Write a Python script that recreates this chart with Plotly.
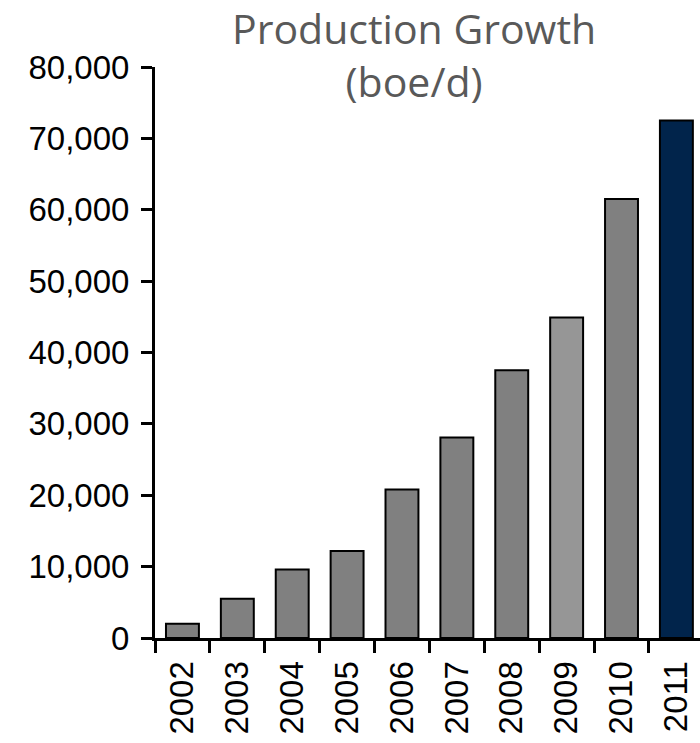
import plotly.graph_objects as go

years = ["2002", "2003", "2004", "2005", "2006", "2007", "2008", "2009", "2010", "2011"]
production = [2000, 5500, 9600, 12200, 20800, 28100, 37500, 44900, 61500, 72500]
bar_colors = ["#808080"] * 7 + ["#969696", "#808080", "#01244b"]
y_ticks = [0, 10000, 20000, 30000, 40000, 50000, 60000, 70000, 80000]

fig = go.Figure()
fig.add_trace(go.Bar(
    x=years, y=production,
    marker=dict(color=bar_colors, line=dict(color="black", width=2)),
    width=0.6,
))

fig.update_layout(
    width=700, height=743,
    margin=dict(l=155, r=0, t=67, b=105),
    paper_bgcolor="white", plot_bgcolor="white",
    showlegend=False,
    font=dict(family="Liberation Sans, Arial", size=33, color="black"),
)
fig.update_yaxes(
    range=[0, 80000], tickvals=y_ticks, tickformat=",d",
    showgrid=False, zeroline=False,
    showline=True, linecolor="black", linewidth=3,
    ticks="outside", ticklen=11, tickwidth=3, tickcolor="black",
    ticklabelstandoff=5,
)
fig.update_xaxes(
    type="category", range=[-0.5, 9.43],
    tickangle=-90, tickson="boundaries",
    showgrid=False, zeroline=False,
    showline=True, linecolor="black", linewidth=3,
    ticks="outside", ticklen=12, tickwidth=3, tickcolor="black",
    ticklabelstandoff=7,
)
fig.add_annotation(
    text="Production Growth<br>(boe/d)",
    xref="paper", yref="paper", x=0.475, y=1.12, xanchor="center", yanchor="top",
    showarrow=False,
    font=dict(family="Open Sans", size=41, color="#595959"),
)
fig.write_html("out.html")
